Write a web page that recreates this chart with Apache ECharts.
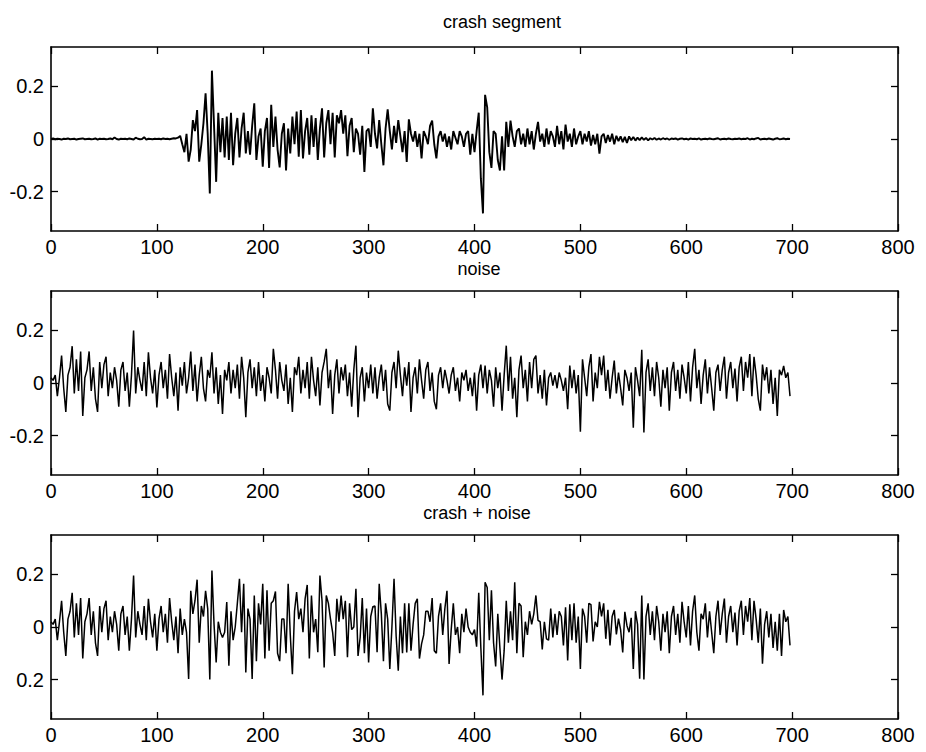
<!DOCTYPE html>
<html>
<head>
<meta charset="utf-8">
<title>crash segment / noise / crash + noise</title>
<script src="https://cdn.jsdelivr.net/npm/echarts@6.0.0/dist/echarts.min.js"></script>
<style>
html, body { margin: 0; padding: 0; background: #fff; }
#chart { width: 926px; height: 752px; }
</style>
</head>
<body>
<div id="chart"></div>
<script>
// values, one every 2 samples (x = 0, 2, ..., 698)
const crashSegment = [
    0, 0.002, -0.001, 0.001, 0, -0.002, 0.001, 0, 0.002, -0.001, 0, 0.001, -0.002, 0, 0.001, 0.002, -0.001, 0, 0.001, -0.001, 0, 0.002, -0.002, 0.001, 0,
    0.001, -0.001, 0, 0.002, -0.001, 0.006, 0, -0.002, 0.001, 0, 0.001, -0.001, 0.002, 0, -0.002, 0.005, 0.001, -0.001, 0, 0.007, -0.002, 0.001, 0, -0.001, 0.001,
    0, 0.001, -0.001, 0.002, 0, 0.001, -0.001, 0.001, 0.003, 0.002, 0.005, 0.012, -0.02, -0.05, 0.02, -0.086, -0.04, 0.072, 0.03, 0.11, -0.086, -0.02, 0.06, 0.174, 0.02,
    -0.207, 0.26, 0.05, -0.163, 0.1, -0.05, 0.08, -0.07, 0.085, -0.08, 0.1, -0.1, 0.02, 0.08, -0.07, 0.04, 0.1, -0.055, 0.03, -0.06, 0.05, 0.136, -0.08, 0.01, 0.04,
    -0.105, 0.03, 0.08, -0.11, 0.13, -0.03, 0.085, -0.04, -0.108, 0.02, 0.06, -0.12, 0.04, -0.055, 0.085, -0.02, 0.104, -0.067, 0.11, -0.074, 0.03, 0.08, -0.06, 0.09, -0.03,
    0.08, -0.08, 0.04, 0.117, -0.07, 0.06, 0.11, -0.02, 0.1, -0.07, 0.09, 0.06, 0.11, 0.02, 0.09, -0.065, 0.05, 0.08, -0.05, 0.04, 0.02, -0.06, 0.05, -0.125, 0.03,
    0.04, -0.03, 0.117, 0.02, -0.036, 0.072, -0.02, -0.1, 0.04, 0.113, 0.03, -0.04, 0.05, -0.015, 0.072, 0.01, -0.05, 0.03, -0.087, 0.075, 0.02, -0.01, 0.03, -0.03, 0.02,
    -0.074, 0.03, 0.01, -0.02, 0.05, 0.07, -0.02, -0.074, 0.01, 0.03, -0.01, 0.02, -0.03, 0.01, -0.04, 0.03, 0.005, -0.02, 0.03, 0.01, -0.03, 0.02, 0.03, -0.06, 0.02,
    -0.05, 0.03, 0.1, -0.15, -0.283, 0.168, 0.12, -0.05, -0.11, 0.03, 0.02, -0.08, -0.12, 0.01, -0.12, 0.065, -0.03, 0.07, 0.01, -0.03, 0.03, 0.04, -0.02, 0.02, -0.03,
    0.04, -0.02, 0.03, -0.04, 0.02, 0.065, -0.01, 0.02, -0.03, 0.04, -0.02, 0.03, 0.01, -0.03, 0.05, -0.02, 0.03, -0.04, 0.055, -0.01, 0.02, -0.03, 0.04, -0.02, 0.01,
    0.03, -0.02, 0.02, -0.01, 0.03, -0.025, 0.015, -0.02, 0.02, -0.056, 0.01, 0.02, -0.015, 0.015, -0.01, 0.02, -0.02, 0.012, -0.008, 0.01, -0.012, 0.008, -0.015, 0.01, -0.005,
    0.008, -0.006, 0.005, -0.004, 0.006, -0.003, 0.004, -0.005, 0.003, -0.002, 0.004, -0.003, 0.002, -0.002, 0.003, -0.001, 0.002, -0.003, 0.002, 0, 0.002, -0.002, 0.001, 0.002, -0.001,
    0.001, -0.002, 0.002, 0, 0.001, -0.001, 0.002, -0.002, 0, 0.001, -0.001, 0.002, 0, -0.001, 0.001, 0.003, -0.002, 0, 0.001, -0.001, 0.002, 0, -0.001, 0.001, 0,
    0.002, -0.001, 0.001, 0, 0.003, -0.002, 0.001, -0.001, 0.002, 0.004, -0.002, 0, 0.001, -0.001, 0.002, 0, -0.002, 0.001, 0.003, -0.001, 0, 0.002, -0.001, 0.001, 0
];

const noise = [
    0.02, 0.01, 0.03, -0.05, 0.02, 0.104, -0.02, -0.11, 0.03, 0.06, 0.14, -0.04, 0.09, -0.03, 0.12, -0.125, 0.02, 0.05, 0.12, -0.03, 0.06, -0.06, -0.11, 0.08, -0.02,
    0.07, 0.1, -0.05, 0.04, -0.02, 0.06, 0.01, -0.09, 0.05, 0.08, -0.03, 0.04, -0.09, 0.03, 0.2, -0.04, 0.06, 0.01, -0.03, 0.08, -0.05, 0.117, 0.02, -0.04, 0.05,
    -0.093, 0.03, 0.08, -0.02, 0.05, -0.06, 0.11, 0.02, -0.05, 0.04, -0.105, 0.06, -0.01, 0.08, -0.04, 0.02, 0.12, -0.03, 0.07, -0.07, 0.03, 0.1, -0.02, -0.07, 0.05,
    0.02, 0.117, -0.04, 0.06, -0.08, 0.03, -0.118, 0.05, 0.01, 0.08, -0.04, 0.05, -0.02, 0.07, -0.06, 0.1, 0.02, -0.13, 0.04, 0.09, -0.02, 0.06, -0.05, 0.08, -0.03,
    0.03, -0.07, 0.06, 0.02, -0.04, 0.13, 0.05, -0.06, 0.08, 0.01, -0.03, 0.07, -0.08, 0.02, -0.11, 0.06, 0.03, 0.1, -0.04, 0.05, -0.02, 0.08, -0.06, 0.1, 0.01,
    -0.05, 0.06, -0.085, 0.04, 0.08, 0.13, -0.02, 0.05, -0.118, 0.03, 0.09, -0.04, 0.06, 0.01, 0.07, -0.05, 0.04, -0.09, 0.05, 0.142, -0.13, 0.02, 0.06, -0.07, 0.04,
    -0.02, 0.07, -0.04, 0.06, -0.06, 0.02, 0.07, -0.03, 0.05, -0.08, -0.105, 0.04, 0.08, -0.02, 0.123, 0.03, -0.05, 0.06, -0.01, 0.08, -0.11, 0.02, 0.06, -0.04, 0.09,
    0.01, -0.06, 0.05, 0.08, -0.03, 0.04, -0.07, -0.1, 0.03, 0.06, -0.02, 0.05, 0.01, -0.04, 0.03, 0.06, -0.03, 0.02, -0.07, 0.04, 0.01, 0.05, -0.03, 0.02, -0.05,
    0.04, -0.105, 0.03, 0.07, -0.02, 0.066, -0.04, 0.05, 0.01, -0.09, 0.06, -0.02, 0.04, -0.105, 0.03, 0.142, -0.03, 0.1, -0.06, 0.02, -0.13, 0.05, 0.104, -0.02, 0.05,
    -0.07, 0.08, -0.02, 0.09, 0.104, -0.04, 0.03, -0.06, 0.05, -0.085, 0.02, 0.04, -0.01, 0.03, -0.02, 0.04, 0.01, -0.03, 0.02, -0.1, 0.066, -0.02, 0.05, -0.04, 0.03,
    -0.185, 0.09, 0.02, -0.05, 0.06, 0.11, -0.07, 0.04, -0.02, 0.1, 0.03, 0.104, -0.03, 0.05, -0.06, 0.02, 0.085, -0.04, 0.04, -0.02, -0.085, 0.05, 0.02, -0.03, 0.04,
    -0.17, 0.06, 0.01, -0.05, 0.126, -0.188, 0.04, 0.09, -0.03, 0.06, -0.05, 0.08, 0.02, -0.09, 0.05, -0.02, 0.06, -0.105, 0.04, 0.08, -0.03, 0.05, -0.06, 0.07, 0.02,
    -0.04, 0.08, -0.07, 0.06, 0.13, -0.02, 0.05, -0.08, 0.03, 0.09, -0.04, 0.06, -0.02, -0.105, 0.04, 0.07, -0.03, 0.05, 0.1, -0.06, 0.04, 0.08, -0.02, 0.055, -0.07,
    0.06, 0.1, -0.03, 0.08, 0.02, 0.11, -0.05, 0.1, 0.03, -0.06, -0.105, 0.07, 0.01, 0.06, -0.04, 0.05, -0.08, 0.02, -0.125, 0.05, 0.03, 0.065, 0.02, 0.04, -0.05
];

const crashPlusNoise = [
    0.02, 0.01, 0.03, -0.05, 0.02, 0.1, -0.02, -0.11, 0.03, 0.06, 0.13, -0.04, 0.09, -0.03, 0.11, -0.12, 0.02, 0.05, 0.11, -0.03, 0.06, -0.06, -0.11, 0.08, -0.02,
    0.07, 0.1, -0.05, 0.04, -0.02, 0.06, 0.01, -0.09, 0.05, 0.08, -0.03, 0.04, -0.09, 0.03, 0.196, -0.04, 0.06, 0.01, -0.03, 0.08, -0.05, 0.107, 0.02, -0.04, 0.05,
    -0.09, 0.03, 0.08, -0.02, 0.05, -0.06, 0.11, 0.02, -0.05, 0.04, -0.1, 0.07, -0.03, 0.03, -0.02, -0.198, 0.138, 0.05, 0.1, 0.18, -0.06, 0.08, 0.04, 0.138, 0.07,
    -0.2, 0.215, 0.01, -0.135, 0.02, -0.02, -0.04, -0.02, 0.095, -0.147, 0.06, -0.05, 0, 0.09, 0.183, -0.02, 0.164, -0.173, 0.07, 0.03, -0.198, 0.12, -0.13, 0.09, 0.01,
    0.164, -0.12, 0.14, -0.09, 0.09, 0.1, 0.135, -0.1, -0.13, 0.03, 0.03, -0.1, 0.164, -0.03, -0.18, 0.06, 0.133, 0.03, 0.07, -0.02, 0.107, 0.16, -0.12, 0.12, -0.02,
    0.03, -0.096, 0.196, 0.1, -0.154, 0.12, 0.09, 0.03, -0.02, -0.11, 0.107, 0.02, 0.12, 0.03, 0.1, -0.115, 0.09, -0.01, 0, 0.145, -0.11, -0.04, 0.11, -0.1, 0.07,
    -0.135, 0.04, 0.077, 0.08, -0.096, 0.164, 0.05, -0.13, 0.09, 0.03, -0.16, 0, 0.183, -0.035, -0.166, 0.04, -0.1, 0.09, -0.097, 0.09, -0.09, 0.01, 0.09, 0.107, -0.12,
    -0.064, -0.03, 0.06, 0.06, 0.02, 0.11, -0.09, -0.1, 0.04, 0.09, -0.03, 0.07, 0.138, -0.141, -0.01, 0.09, -0.03, 0, -0.1, 0.05, -0.02, 0.07, 0, -0.02, -0.03,
    -0.01, -0.075, 0.13, -0.08, -0.26, 0.17, 0.15, -0.05, 0.14, -0.06, -0.15, 0.05, -0.08, -0.2, -0.09, 0.1, -0.06, 0.06, -0.05, 0.17, -0.1, 0.09, 0.08, -0.115, 0.02,
    -0.03, 0.06, 0.01, 0.05, 0.12, 0.025, 0.02, -0.085, 0.02, -0.045, -0.05, 0.07, -0.04, 0.05, -0.03, 0.06, 0.04, -0.07, 0.075, -0.127, 0.086, -0.05, 0.09, -0.06, 0.04,
    -0.16, 0.07, 0.04, -0.06, 0.09, 0.085, -0.055, 0.02, 0, 0.096, 0.04, 0.09, -0.045, 0.065, -0.07, 0.04, 0.065, -0.028, 0.032, -0.01, -0.097, 0.058, 0.005, -0.02, 0.035,
    -0.16, 0.06, 0.01, -0.197, 0.12, -0.2, 0.04, 0.09, -0.03, 0.06, -0.05, 0.08, 0.02, -0.09, 0.05, -0.02, 0.06, -0.1, 0.04, 0.08, -0.03, 0.05, -0.06, 0.096, 0.02,
    -0.04, 0.08, -0.07, 0.06, 0.12, -0.02, -0.09, 0.05, 0.03, 0.09, -0.04, 0.06, -0.02, -0.1, 0.04, 0.1, -0.03, 0.05, 0.108, -0.06, 0.04, 0.08, -0.02, 0.055, -0.07,
    0.06, 0.1, -0.03, 0.08, 0.02, 0.11, -0.05, 0.1, 0.03, -0.06, 0.07, -0.14, 0.01, 0.06, -0.04, 0.05, -0.08, 0.02, -0.09, 0.05, -0.11, 0.065, 0.02, 0.04, -0.07
];

const sampleStep = 2;
const panelTitles = ['crash segment', 'noise', 'crash + noise'];
const yTicks = [-0.2, 0, 0.2];
// the scan lost the minus sign on the bottom panel
const yTickLabels = [
    ['-0.2', '0', '0.2'],
    ['-0.2', '0', '0.2'],
    ['0.2', '0', '0.2']
];

const FONT = "'Liberation Sans', Arial, Helvetica, sans-serif";
const panelTops = [47, 291, 535];
const titlePos = [[502, 22], [479, 269], [477, 513]];

function toPairs(values) {
    return values.map((v, i) => [i * sampleStep, v]);
}

const chart = echarts.init(document.getElementById('chart'), null, { renderer: 'svg' });

const grids = panelTops.map(top => ({
    left: 51, top: top, width: 847, height: 184, containLabel: false
}));

const lineBlack = { color: '#000', width: 1.6 };
const tickBlack = { color: '#000', width: 1.3 };

const xAxes = [];
const yAxes = [];
panelTops.forEach((_, k) => {
    xAxes.push({
        gridIndex: k, type: 'value', position: 'bottom',
        min: 0, max: 800, interval: 100,
        axisLine: { show: true, onZero: false, lineStyle: lineBlack },
        axisTick: { show: true, inside: true, length: 7, lineStyle: tickBlack },
        axisLabel: { show: true, color: '#000', fontSize: 20, fontFamily: FONT, margin: 6,
                     showMinLabel: true, showMaxLabel: true, hideOverlap: false },
        splitLine: { show: false }
    });
    xAxes.push({
        gridIndex: k, type: 'value', position: 'top',
        min: 0, max: 800, interval: 100,
        axisLine: { show: true, onZero: false, lineStyle: lineBlack },
        axisTick: { show: true, inside: true, length: 7, lineStyle: tickBlack },
        axisLabel: { show: false },
        splitLine: { show: false }
    });
    yAxes.push({
        gridIndex: k, type: 'value', position: 'left',
        min: -0.35, max: 0.35,
        axisLine: { show: true, onZero: false, lineStyle: lineBlack },
        axisTick: { show: true, inside: true, length: 7, lineStyle: tickBlack, customValues: yTicks },
        axisLabel: {
            show: true, color: '#000', fontSize: 20, fontFamily: FONT, margin: 7,
            customValues: yTicks,
            formatter: function (v) {
                const idx = yTicks.findIndex(t => Math.abs(t - v) < 1e-9);
                return idx >= 0 ? yTickLabels[k][idx] : '';
            }
        },
        splitLine: { show: false }
    });
    yAxes.push({
        gridIndex: k, type: 'value', position: 'right',
        min: -0.35, max: 0.35,
        axisLine: { show: true, onZero: false, lineStyle: lineBlack },
        axisTick: { show: true, inside: true, length: 7, lineStyle: tickBlack, customValues: yTicks },
        axisLabel: { show: false },
        splitLine: { show: false }
    });
});

const signals = [crashSegment, noise, crashPlusNoise];
const widths = [1.9, 1.5, 1.5];

const option = {
    backgroundColor: '#fff',
    animation: false,
    grid: grids,
    xAxis: xAxes,
    yAxis: yAxes,
    graphic: panelTitles.map((t, k) => ({
        type: 'text',
        x: titlePos[k][0],
        y: titlePos[k][1],
        style: {
            text: t,
            fill: '#000',
            font: '18px ' + FONT,
            textAlign: 'center',
            textVerticalAlign: 'middle'
        }
    })),
    series: signals.map((values, k) => ({
        name: panelTitles[k],
        type: 'line',
        xAxisIndex: k * 2,
        yAxisIndex: k * 2,
        data: toPairs(values),
        showSymbol: false,
        symbol: 'none',
        smooth: false,
        clip: true,
        lineStyle: { color: '#000', width: widths[k] }
    }))
};

chart.setOption(option);
</script>
</body>
</html>
